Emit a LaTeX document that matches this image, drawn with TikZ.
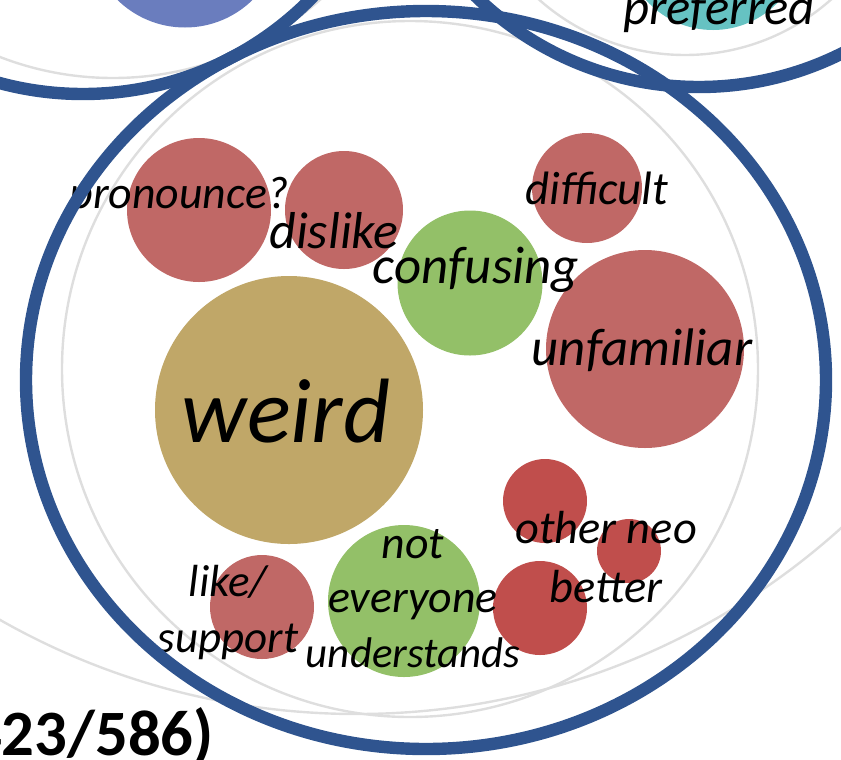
\documentclass[tikz,border=0pt]{standalone}
\usepackage{fontspec}
\setmainfont{Carlito}
\usetikzlibrary{positioning}

\definecolor{RingBlue}{RGB}{47,84,143}
\definecolor{FaintGray}{RGB}{222,222,222}
\definecolor{SoftRed}{RGB}{192,104,102}
\definecolor{DeepRed}{RGB}{192,78,76}
\definecolor{LeafGreen}{RGB}{147,192,104}
\definecolor{SandTan}{RGB}{192,167,104}
\definecolor{SkyViolet}{RGB}{106,125,190}
\definecolor{SeaTeal}{RGB}{102,194,194}

\newcommand{\unitpx}{0.025cm}

\begin{document}
\begin{tikzpicture}[x=0.025cm, y=-0.025cm]

% Definitions
\tikzstyle{Bubble} = [circle, inner sep=0pt, draw=none]
\tikzstyle{Word} = [inner sep=0pt, align=center, anchor=base]
\tikzstyle{Ring} = [draw=RingBlue, line width=0.31cm]
\tikzstyle{Faint} = [draw=FaintGray, line width=0.06cm]

\clip (0,0) rectangle (841,759);

% faint circles behind
\draw [Faint] (410,369) circle [radius=348];
\draw [Faint] (357,-9) circle [radius=723];
\draw [Faint] (113,-235) circle [radius=313];
\draw [Faint] (685,-165) circle [radius=220];

% bubbles
\node (topblue) [Bubble, fill=SkyViolet, minimum size=193*\unitpx] at (185,-69) {};
\node (prefer) [Bubble, fill=SeaTeal, minimum size=180*\unitpx] at (713,-60) {};
\node (pronounce) [Bubble, fill=SoftRed, minimum size=144*\unitpx] at (199,210) {};
\node (dislike) [Bubble, fill=SoftRed, minimum size=118*\unitpx] at (344,210) {};
\node (difficult) [Bubble, fill=SoftRed, minimum size=110*\unitpx] at (587,188) {};
\node (confusing) [Bubble, fill=LeafGreen, minimum size=145*\unitpx] at (470,283) {};
\node (unfamiliar) [Bubble, fill=SoftRed, minimum size=198*\unitpx] at (645,349) {};
\node (weird) [Bubble, fill=SandTan, minimum size=268*\unitpx] at (289,410) {};
\node (like) [Bubble, fill=SoftRed, minimum size=104*\unitpx] at (262,607) {};
\node (noteveryone) [Bubble, fill=LeafGreen, minimum size=152*\unitpx] at (404,601) {};
\node (neoA) [Bubble, fill=DeepRed, minimum size=84*\unitpx] at (545,501) {};
\node (neoB) [Bubble, fill=DeepRed, minimum size=64*\unitpx] at (629,551) {};
\node (neoC) [Bubble, fill=DeepRed, minimum size=94*\unitpx] at (540,608) {};

% words
\node (preferW) [Word, font=\itshape\fontsize{36}{43}\selectfont] at (719,24) {preferred};
\node (pronounceW) [Word, font=\itshape\fontsize{32.6}{39}\selectfont] at (179,208) {pronounce?};
\node (dislikeW) [Word, font=\itshape\fontsize{36.9}{44}\selectfont] at (334,248) {dislike};
\node (difficultW) [Word, font=\itshape\fontsize{33.3}{40}\selectfont] at (597,204) {difficult};
\node (confusingW) [Word, font=\itshape\fontsize{37.6}{45}\selectfont] at (476,283) {confusing};
\node (unfamiliarW) [Word, font=\itshape\fontsize{37.6}{45}\selectfont] at (642,365) {unfamiliar};
\node (weirdW) [Word, font=\itshape\fontsize{65}{78}\selectfont] at (286,442) {weird};
\node (noteveryoneW) [Word, font=\itshape\fontsize{32.6}{38.6}\selectfont] at (413,667) {not\\everyone\\{\fontsize{30.5}{38.6}\selectfont understands}};
\node (likeW) [Word, font=\itshape\fontsize{32}{39.7}\selectfont] at (228,652) {like/\\support};
\node (neoW) [Word, font=\itshape\fontsize{33}{41.8}\selectfont] at (606,602) {other neo\\better};
\node (countW) [inner sep=0pt, anchor=base east, font=\bfseries\fontsize{46}{56}\selectfont] at (214,755) {423/586)};

% blue rings on top
\draw [Ring] (426,380) ellipse [x radius=400, y radius=369];
\draw [Ring] (83,-226) circle [radius=320];
\draw [Ring] (699,-233) circle [radius=320];

\end{tikzpicture}
\end{document}
